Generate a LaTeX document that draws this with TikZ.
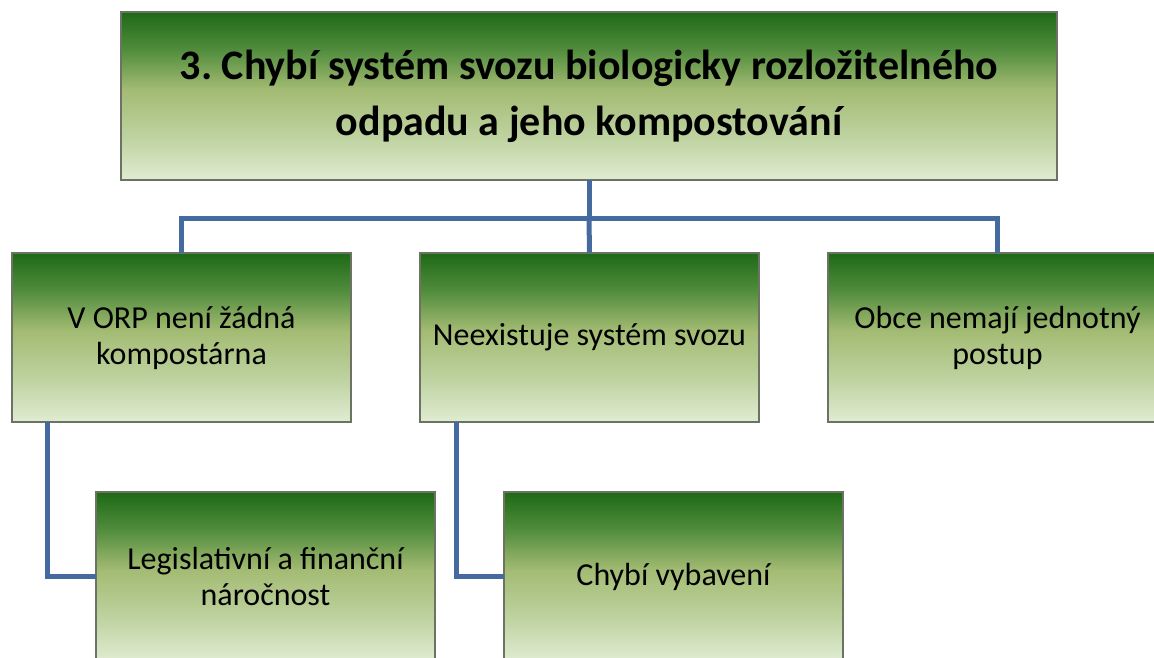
\documentclass[tikz,border=0pt]{standalone}
\usepackage{fontspec}
\setmainfont{Carlito}
\usepackage{tikz}
\frenchspacing
\definecolor{leafTop}{RGB}{30,105,22}
\definecolor{leafUp}{RGB}{80,140,60}
\definecolor{leafMid}{RGB}{163,187,115}
\definecolor{leafLow}{RGB}{192,212,163}
\definecolor{leafBot}{RGB}{224,236,210}
\definecolor{edgeCol}{RGB}{108,114,100}
\definecolor{linkCol}{RGB}{68,106,160}
\pgfdeclareverticalshading{leafFade}{100bp}{%
  color(0bp)=(leafBot); color(25bp)=(leafBot); color(37bp)=(leafLow);
  color(52bp)=(leafMid); color(64bp)=(leafUp); color(75bp)=(leafTop);
  color(100bp)=(leafTop)}
\tikzset{
  cell/.style={draw=edgeCol, line width=1.5pt, shading=leafFade, align=center,
               anchor=north west, inner sep=0pt, outer sep=0pt,
               minimum height=169pt, minimum width=339pt,
               font=\fontsize{32}{36}\selectfont},
  headcell/.style={cell, minimum width=936pt, minimum height=168pt,
               font=\fontsize{42}{56}\selectfont\bfseries},
  link/.style={draw=linkCol, line width=5pt},
}

\begin{document}
\begin{tikzpicture}[x=1pt, y=-1pt]
  \useasboundingbox (0,0) rectangle (1154,657);

  \node[headcell] (head) at (121,12)
    {3. Chybí systém svozu biologicky rozložitelného\\ odpadu a jeho kompostování};

  \node[cell] (orp)    at (12,253)  {V ORP není žádná\\ kompostárna};
  \node[cell] (svoz)   at (420,253) {Neexistuje systém svozu};
  \node[cell] (obce)   at (828,253) {Obce nemají jednotný\\ postup};

  \node[cell] (legis)  at (96,492)  {Legislativní a finanční\\ náročnost};
  \node[cell] (vybav)  at (504,492) {Chybí vybavení};

  % head -> first row
  \coordinate (bar) at ([yshift=-38pt]head.south);
  \draw[link] (head.south) -- (bar);
  \draw[link] (orp.north) |- (bar) -| (obce.north);
  \draw[link] (bar) -- (svoz.north);

  % first row -> second row
  \draw[link] ([xshift=35pt]orp.south west) |- (legis.west);
  \draw[link] ([xshift=36pt]svoz.south west) |- (vybav.west);
\end{tikzpicture}
\end{document}
